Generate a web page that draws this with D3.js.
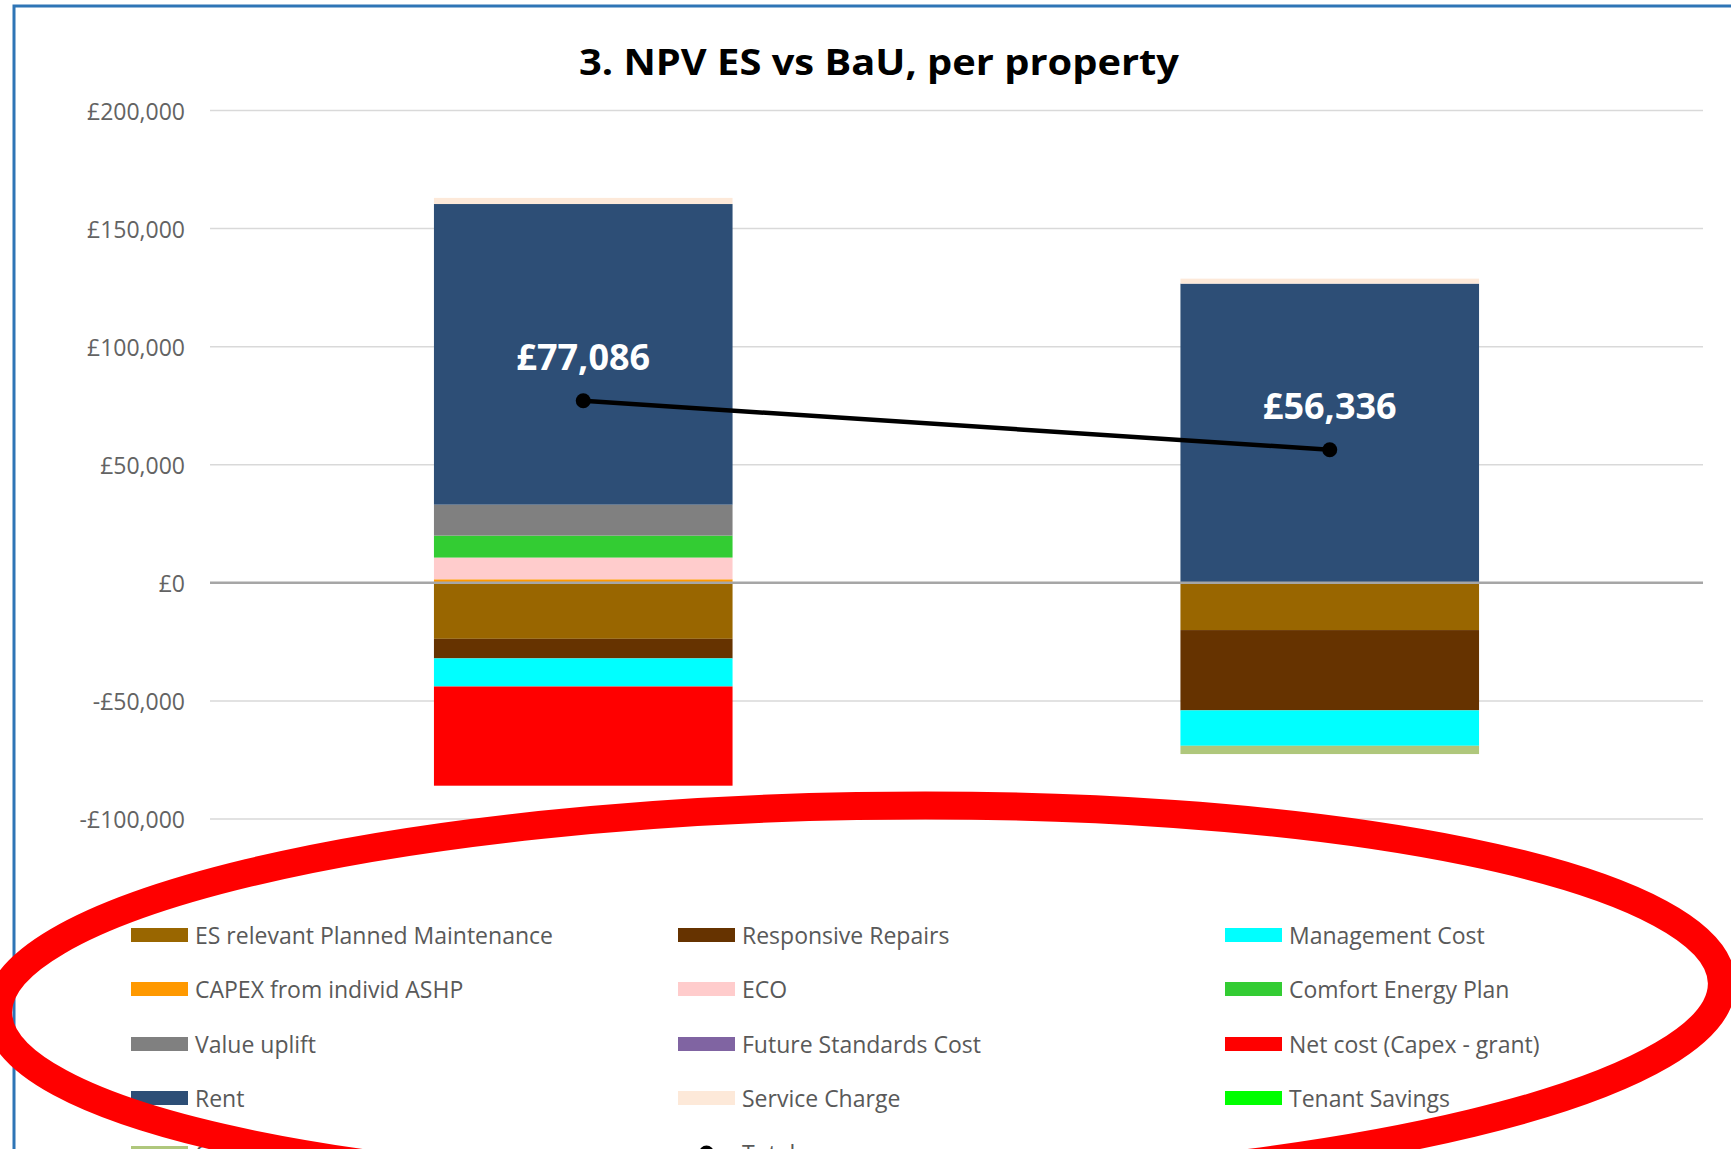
<!DOCTYPE html>
<html>
<head>
<meta charset="utf-8">
<script src="https://cdn.jsdelivr.net/npm/d3@7"></script>
<style>
  body { margin: 0; background: #fff; overflow: hidden; }
  text { font-family: "Open Sans", "Noto Sans", sans-serif; }
</style>
</head>
<body>
<div id="chart"></div>
<script>
// categories (no axis labels shown in the original)
var categories = ["ES", "BaU"];

var seriesNames = [
    "ES relevant Planned Maintenance", "Responsive Repairs", "Management Cost",
    "CAPEX from individ ASHP", "ECO", "Comfort Energy Plan",
    "Value uplift", "Future Standards Cost", "Net cost (Capex - grant)",
    "Rent", "Service Charge", "Tenant Savings",
    "Grant"
];

var seriesColors = [
    "#996600", "#663300", "#00ffff",
    "#ff9900", "#ffcccc", "#33cc33",
    "#808080", "#8064a2", "#ff0000",
    "#2d4e76", "#fde9d9", "#00ff00",
    "#afc77c"
];

// values per series, same order as seriesNames
var esValues  = [-23700, -8300, -11900, 1500, 9200, 9300, 13100, 0, -42000, 127300, 2600, 0, 0];
var bauValues = [-20000, -34000, -15000, 0, 0, 0, 0, 0, 0, 126700, 2100, 0, -3500];

var totals = [77086, 56336];
var totalLabels = ["£77,086", "£56,336"];

var yTicks = [-100000, -50000, 0, 50000, 100000, 150000, 200000];

function init() {
    const w = 1731;
    const h = 1149;

    var rows = categories.map(function (c, i) {
        var vals = i === 0 ? esValues : bauValues;
        var row = { cat: c };
        seriesNames.forEach(function (s, j) { row[s] = vals[j]; });
        return row;
    });

    var stack = d3.stack()
        .keys(seriesNames)
        .order(d3.stackOrderNone)
        .offset(d3.stackOffsetDiverging);
    var series = stack(rows);

    var svg = d3.select("#chart")
        .append("svg")
        .attr("width", w)
        .attr("height", h);

    // chart frame (cropped screenshot, only top and left edges show)
    svg.append("rect")
        .attr("x", 14).attr("y", 6)
        .attr("width", w + 20).attr("height", h + 20)
        .attr("fill", "none")
        .attr("stroke", "#2e75b6")
        .attr("stroke-width", 3);

    // scales
    var x = d3.scaleBand()
        .domain(categories)
        .range([210, 1703])
        .paddingInner(0.6)
        .paddingOuter(0.3);

    var y = d3.scaleLinear()
        .domain([-100000, 200000])
        .range([819, 110.5]);

    // title
    svg.append("text")
        .attr("x", 879)
        .attr("y", 75)
        .attr("text-anchor", "middle")
        .style("font-size", "36px")
        .style("font-weight", "bold")
        .attr("fill", "#000")
        .attr("textLength", 600)
        .attr("lengthAdjust", "spacingAndGlyphs")
        .text("3. NPV ES vs BaU, per property");

    // gridlines
    svg.append("g")
        .selectAll("line")
        .data(yTicks.filter(function (d) { return d !== 0; }))
        .enter()
        .append("line")
        .attr("x1", 210).attr("x2", 1703)
        .attr("y1", function (d) { return y(d); })
        .attr("y2", function (d) { return y(d); })
        .attr("stroke", "#d9d9d9")
        .attr("stroke-width", 1.5);

    // y axis labels
    var fmt = d3.format(",");
    svg.append("g")
        .selectAll("text")
        .data(yTicks)
        .enter()
        .append("text")
        .attr("x", 185)
        .attr("y", function (d) { return y(d); })
        .attr("text-anchor", "end")
        .attr("dominant-baseline", "central")
        .attr("fill", "#636363")
        .style("font-size", "23px")
        .text(function (d) { return (d < 0 ? "-£" : "£") + fmt(Math.abs(d)); });

    // stacked bars
    var groups = svg.selectAll("g.series")
        .data(series)
        .enter()
        .append("g")
        .attr("class", "series")
        .attr("fill", function (d, i) { return seriesColors[i]; });

    groups.selectAll("rect")
        .data(function (d) { return d; })
        .enter()
        .append("rect")
        .attr("x", function (d) { return x(d.data.cat); })
        .attr("y", function (d) { return y(Math.max(d[0], d[1])); })
        .attr("width", x.bandwidth())
        .attr("height", function (d) { return Math.abs(y(d[0]) - y(d[1])); });

    // zero axis line
    svg.append("line")
        .attr("x1", 210).attr("x2", 1703)
        .attr("y1", y(0)).attr("y2", y(0))
        .attr("stroke", "#a6a6a6")
        .attr("stroke-width", 2.5);

    // total line with markers
    var cx = function (i) { return x(categories[i]) + x.bandwidth() / 2; };
    var line = d3.line()
        .x(function (d, i) { return cx(i); })
        .y(function (d) { return y(d); });

    svg.append("path")
        .datum(totals)
        .attr("d", line)
        .attr("fill", "none")
        .attr("stroke", "#000")
        .attr("stroke-width", 4.5);

    svg.selectAll("circle.total")
        .data(totals)
        .enter()
        .append("circle")
        .attr("class", "total")
        .attr("cx", function (d, i) { return cx(i); })
        .attr("cy", function (d) { return y(d); })
        .attr("r", 7.5)
        .attr("fill", "#000");

    svg.selectAll("text.total")
        .data(totals)
        .enter()
        .append("text")
        .attr("class", "total")
        .attr("x", function (d, i) { return cx(i); })
        .attr("y", function (d) { return y(d) - 44; })
        .attr("text-anchor", "middle")
        .attr("dominant-baseline", "central")
        .attr("fill", "#fff")
        .style("font-size", "36px")
        .style("font-weight", "bold")
        .text(function (d, i) { return totalLabels[i]; });

    // legend, 3 columns
    var colX = [131, 678, 1225];
    var rowY = [935, 989, 1044, 1098, 1153];
    var legendItems = seriesNames.map(function (s, i) {
        return { name: s, color: seriesColors[i], type: "bar" };
    });
    legendItems.push({ name: "Total", color: "#000", type: "line" });

    var legend = svg.append("g")
        .selectAll("g")
        .data(legendItems)
        .enter()
        .append("g")
        .attr("transform", function (d, i) {
            return "translate(" + colX[i % 3] + "," + rowY[Math.floor(i / 3)] + ")";
        });

    legend.filter(function (d) { return d.type === "bar"; })
        .append("rect")
        .attr("x", 0).attr("y", -7)
        .attr("width", 57).attr("height", 14)
        .attr("fill", function (d) { return d.color; });

    var lineItems = legend.filter(function (d) { return d.type === "line"; });
    lineItems.append("line")
        .attr("x1", 0).attr("x2", 57)
        .attr("y1", 0).attr("y2", 0)
        .attr("stroke", "#000")
        .attr("stroke-width", 4.5);
    lineItems.append("circle")
        .attr("cx", 28.5).attr("cy", 0)
        .attr("r", 7.5)
        .attr("fill", "#000");

    legend.append("text")
        .attr("x", 64)
        .attr("y", 0)
        .attr("dominant-baseline", "central")
        .attr("fill", "#595959")
        .style("font-size", "23px")
        .text(function (d) { return d.name; });

    // red highlight ellipse drawn over the legend
    svg.append("ellipse")
        .attr("cx", 860)
        .attr("cy", 998)
        .attr("rx", 862)
        .attr("ry", 192)
        .attr("transform", "rotate(-1, 860, 998)")
        .attr("fill", "none")
        .attr("stroke", "#ff0000")
        .attr("stroke-width", 28);
}
window.onload = init;
</script>
</body>
</html>
